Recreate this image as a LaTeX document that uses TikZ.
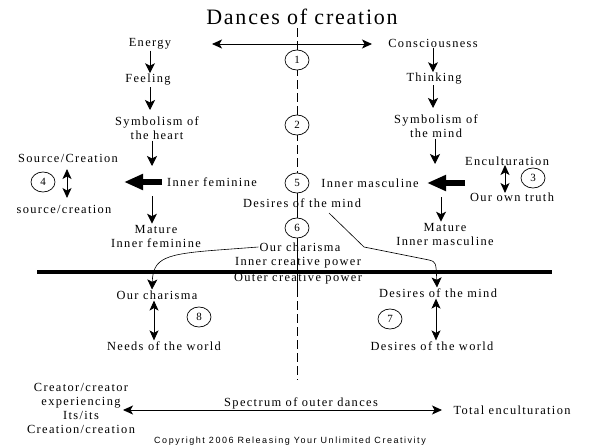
\documentclass[tikz,border=0pt]{standalone}
\usepackage{fontspec}
\setmainfont{Liberation Serif}
\newfontfamily\lblfont{Liberation Serif}[LetterSpace=11]
\newfontfamily\titlefont{Liberation Serif}[LetterSpace=8]
\newfontfamily\copyfont{Liberation Sans}[LetterSpace=17]
\usetikzlibrary{arrows.meta,shapes.geometric}
\begin{document}
\begin{tikzpicture}[x=1pt,y=-1pt,
  lbl/.style={font=\lblfont\fontsize{12.4}{14}\selectfont, inner sep=1pt, align=center},
  num/.style={ellipse, draw, fill=white, line width=0.7pt, minimum width=24pt, minimum height=20pt, inner sep=0pt, font=\lblfont\fontsize{11}{12}\selectfont},
  arr/.style={-{Stealth[length=10pt,width=10pt,inset=2.5pt]}, line width=0.9pt},
  dbl/.style={{Stealth[length=10pt,width=9pt,inset=2.5pt]}-{Stealth[length=10pt,width=9pt,inset=2.5pt]}, line width=0.9pt},
  fatarr/.style={line width=6.5pt, -{Triangle[length=19pt,width=15pt]}},
  axis/.style={line width=0.8pt, dash pattern=on 9pt off 4pt},
]
\useasboundingbox (0,0) rectangle (593,447);

% title
\node[inner sep=0pt, font=\titlefont\fontsize{22}{24}\selectfont] (title) at (302,17) {Dances of creation};

% central axis
\coordinate (ctop) at (297,28);
\coordinate (cbot) at (297,380);
\coordinate (csolid) at (297,290);
\draw[axis] (ctop) -- (cbot);

% circled numbers on axis
\node[num] (n1) at (297,60) {1};
\node[num] (n2) at (297,125) {2};
\node[num] (n5) at (297,183) {5};
\node[num] (n6) at (297,228) {6};
\draw[line width=0.8pt] (n5.south) -- (n6.north);
\draw[line width=0.8pt] (n6.south) -- (csolid);

% top horizontal arrow
\coordinate (hl) at (212,44);
\coordinate (hr) at (372,44);
\draw[dbl] (hl) -- (hr);

% left column
\node[lbl] (energy) at (150,44) {Energy};
\node[lbl] (feeling) at (148,80) {Feeling};
\node[lbl] (sheart) at (157,128) {Symbolism of\\the heart};
\draw[arr] (energy.south) -- (energy.south |- feeling.north);
\draw[arr] (150,87) -- (150,110);
\coordinate (l1) at (152,166);
\coordinate (l2) at (152,196);
\draw[arr] (sheart.south -| l1) -- (l1);
\node[lbl] (infem) at (212,182) {Inner feminine};
\coordinate (lfatstart) at (162,182);
\coordinate (lfattip) at (124,182);
\draw[fatarr] (lfatstart) -- (lfattip);
\node[lbl] (lmat) at (156,236) {Mature\\Inner feminine};
\draw[arr] (l2) -- (lmat.north -| l2);

% left side 4
\node[lbl] (srcC) at (68,158) {Source/Creation};
\node[lbl] (srcc) at (64,209) {source/creation};
\node[num] (n4) at (43,182) {4};
\coordinate (d4a) at (67,169);
\coordinate (d4b) at (67,198);
\draw[dbl] (d4a) -- (d4b);

% right column
\node[lbl] (consc) at (433,43) {Consciousness};
\node[lbl] (think) at (434,79) {Thinking};
\node[lbl] (smind) at (436,126) {Symbolism of\\the mind};
\draw[arr] (consc.south) -- (consc.south |- think.north);
\draw[arr] (433,85) -- (433,108);
\coordinate (r1) at (435,164);
\coordinate (r2) at (441,197);
\draw[arr] (smind.south -| r1) -- (r1);
\node[lbl] (inmasc) at (370,183) {Inner masculine};
\coordinate (rfatstart) at (465,183);
\coordinate (rfattip) at (427,183);
\draw[fatarr] (rfatstart) -- (rfattip);
\node[lbl] (rmat) at (445,234) {Mature\\Inner masculine};
\draw[arr] (r2) -- (rmat.north -| r2);

% right side 3
\node[lbl] (encult) at (507,161) {Enculturation};
\node[lbl] (truth) at (512,197) {Our own truth};
\node[num] (n3) at (533,178) {3};
\coordinate (d3a) at (505,165);
\coordinate (d3b) at (505,193);
\draw[dbl] (d3a) -- (d3b);

% middle labels
\node[lbl] (desmind) at (302,203) {Desires of the mind};
\node[lbl] (ourch) at (300,247) {Our charisma};
\node[lbl] (incp) at (298,263) {Inner creative power};
\node[lbl] (outcp) at (298,279) {Outer creative power};

% thick bar
\coordinate (barl) at (37,272);
\coordinate (barr) at (552,272);
\draw[line width=4pt] (barl) -- (barr);

% lower left
\node[lbl] (lchar) at (157,295) {Our charisma};
\node[lbl] (needs) at (164,346) {Needs of the world};
\node[num] (n8) at (199,317) {8};
\draw[dbl] (lchar.south -| 154,0) -- (needs.north -| 154,0);

% lower right
\node[lbl] (rdes) at (438,293) {Desires of the mind};
\node[lbl] (wdes) at (432,346) {Desires of the world};
\node[num] (n7) at (390,319) {7};
\draw[dbl] (rdes.south -| 436,0) -- (wdes.north -| 436,0);

% connectors across bar
\draw[arr, line width=0.6pt] (ourch.west) -- (218,250) .. controls (165,254) and (153,258) .. (lchar.north -| 152,0);
\coordinate (rcstart) at (329,213);
\draw[arr, line width=0.6pt] (rcstart) -- (364,247) -- (429,260) .. controls (436,262) .. (rdes.north -| 437,0);

% bottom
\node[lbl] (creator) at (81,408) {Creator/creator\\experiencing\\Its/its\\Creation/creation};
\coordinate (bl) at (123,410);
\coordinate (br) at (442,410);
\draw[dbl] (bl) -- (br);
\node[lbl] (spec) at (301,403) {Spectrum of outer dances};
\node[lbl] (total) at (512,410) {Total enculturation};
\node[inner sep=0pt, font=\copyfont\fontsize{9}{10}\selectfont] (copy) at (290,441) {Copyright 2006 Releasing Your Unlimited Creativity};
\end{tikzpicture}
\end{document}
